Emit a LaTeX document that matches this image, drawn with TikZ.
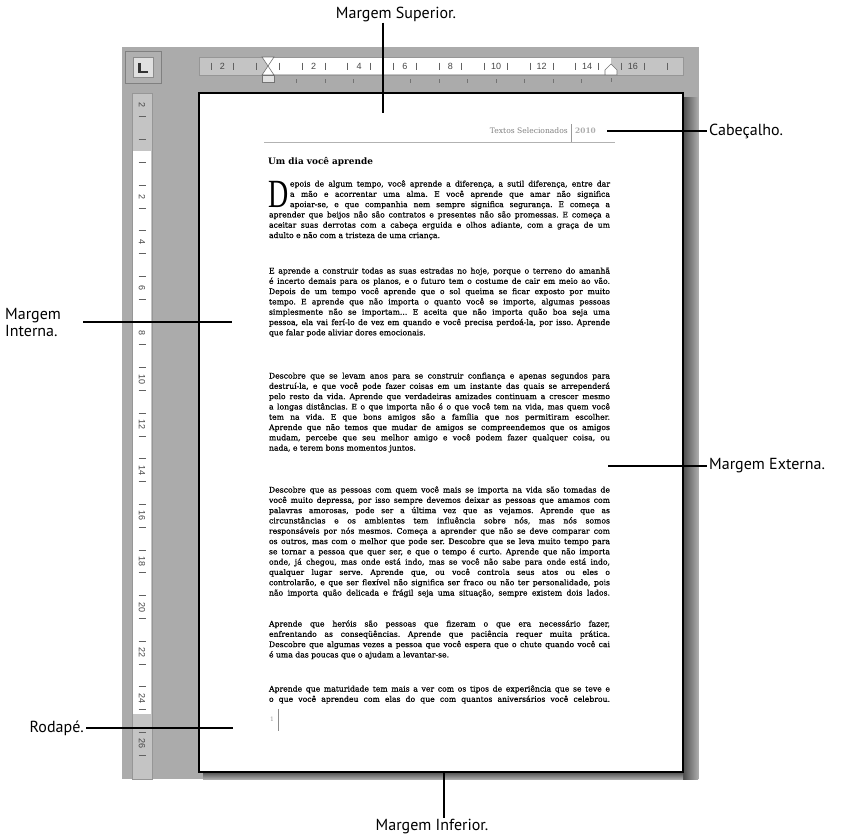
\documentclass[tikz,border=0pt]{standalone}
\usepackage{fontspec}
\usepackage{graphicx}
\setmainfont{DejaVu Serif}
\newfontfamily\labelfont{PT Sans}
\newfontfamily\bodyfont{DejaVu Serif}[FakeBold=0.45]
\newfontfamily\headfont{DejaVu Serif}
\newfontfamily\rulerfont{Liberation Sans}
\newfontfamily\dropfont{Liberation Serif}
\definecolor{bggray}{RGB}{171,171,171}
\definecolor{rgray}{RGB}{196,196,196}
\definecolor{rborder}{RGB}{150,150,150}
\frenchspacing
\newlength\jw
\newcommand\jfit[1]{\setbox0=\hbox{#1}\ifdim\wd0>\jw\resizebox{\jw}{\height}{#1}\else\makebox[\jw][s]{#1}\fi}
\newcommand\jline[4]{\node[txt] (#1) at (#2,#3) {\setlength\jw{\dimexpr 610pt-#2pt\relax}\jfit{#4}};}
\newcommand\fline[4]{\node[txt] (#1) at (#2,#3) {#4};}
\tikzset{
  txt/.style={anchor=base west, inner sep=0pt, outer sep=0pt, font=\bodyfont\fontsize{7.7}{9}\selectfont, text=black},
  lbl/.style={font=\labelfont\fontsize{16}{17}\selectfont, inner xsep=2pt, inner ysep=1pt},
  lead/.style={line width=1.4pt, black},
  rnum/.style={font=\rulerfont\fontsize{9}{9}\selectfont, text=black!72, inner sep=0pt},
  rtick/.style={line width=0.7pt, black!62},
  marker/.style={fill=white, draw=black!55, line width=0.6pt},
}
\begin{document}
\begin{tikzpicture}[x=1pt,y=-1pt]
\useasboundingbox (0,0) rectangle (861,839);
% application background
\fill[bggray] (122,47) rectangle (699,779);
% tab selector
\draw[fill=rgray!90!black, draw=black!50, line width=0.8pt] (125,51) rectangle (161,83);
\draw[fill=white!88!black, draw=black!45, line width=0.6pt] (133,57) rectangle (153,77);
\draw[line width=2.2pt, black!80] (139.5,63) -- (139.5,72) -- (148,72);
% top ruler
\draw[fill=rgray, draw=rborder, line width=0.6pt] (199,57) rectangle (683,75);
\fill[white] (268,58) rectangle (611,74);
\foreach \k in {-2.5,-1.5,...,17.5} \draw[rtick] ({268+22.8*\k},62.5) -- ++(0,7);
\foreach \n/\t [count=\i] in {-2/2,2/2,4/4,6/6,8/8,10/10,12/12,14/14,16/16}
  \node[rnum] (hn\i) at ({268+22.8*\n},66.5) {\t};
\foreach \k in {1,...,11} \draw[black!55, line width=0.7pt] ({268+28.5*\k},79) -- ++(0,3.5);
% indent markers
\draw[marker] (262,57) -- (274,57) -- (268,66) -- cycle;
\draw[marker] (268,66) -- (274,75) -- (262,75) -- cycle;
\draw[marker, fill=white!88!black] (262,75) rectangle (274,82);
\draw[marker] (605,75) -- (605,70) -- (611,64) -- (617,70) -- (617,75) -- cycle;
\draw[black!55, line width=0.7pt] (611,78) -- (611,81.5);
% left ruler
\draw[fill=rgray, draw=rborder, line width=0.6pt] (132,93) rectangle (152,779);
\fill[white] (133,151) rectangle (151,714);
\foreach \k in {-1.5,-0.5,...,26.5} \draw[rtick] (138.5,{151+22.8*\k}) -- ++(7,0);
\foreach \n/\t [count=\i] in {-2/2,2/2,4/4,6/6,8/8,10/10,12/12,14/14,16/16,18/18,20/20,22/22,24/24,26/26}
  \node[rnum, rotate=-90] (vn\i) at (142,{151+22.8*\n}) {\t};
% page shadow
\shade[left color=black!70, right color=bggray] (683,97) rectangle (698,779);
\shade[top color=black!70, bottom color=bggray] (203,772) rectangle (683,779);
% page
\draw[fill=white, line width=1.2pt] (199,93) rectangle (683,772);
% header
\draw[black!30, line width=0.8pt] (264,142) -- (615,142);
\draw[black!40, line width=0.8pt] (571,124) -- (571,142);
\node[anchor=east, inner sep=0pt, font=\headfont\fontsize{7.6}{9}\selectfont, text=black!50] (hdr) at (568,131) {Textos Selecionados};
\node[anchor=west, inner sep=0pt, font=\headfont\bfseries\fontsize{7.4}{9}\selectfont, text=black!32] (year) at (575,131) {2010};
% title
\node[anchor=base west, inner sep=0pt, font=\headfont\bfseries\fontsize{8.9}{10}\selectfont] (title) at (268,164) {Um dia você aprende};
% drop cap
\node[anchor=base west, inner sep=0pt, font=\dropfont\fontsize{40}{40}\selectfont, text=black] (dcap) at (268,207.1) {\scalebox{0.7}[1]{D}};
% paragraph 1
\jline{a1}{290}{186.5}{epois de algum tempo, você aprende a diferença, a sutil diferença, entre dar}
\jline{a2}{290}{196.8}{a mão e acorrentar uma alma. E você aprende que amar não significa}
\jline{a3}{290}{207.1}{apoiar-se, e que companhia nem sempre significa segurança. E começa a}
\jline{a4}{269}{217.4}{aprender que beijos não são contratos e presentes não são promessas. E começa a}
\jline{a5}{269}{227.7}{aceitar suas derrotas com a cabeça erguida e olhos adiante, com a graça de um}
\fline{a6}{269}{238.0}{adulto e não com a tristeza de uma criança.}
% paragraph 2
\jline{b1}{269}{273.5}{E aprende a construir todas as suas estradas no hoje, porque o terreno do amanhã}
\jline{b2}{269}{283.8}{é incerto demais para os planos, e o futuro tem o costume de cair em meio ao vão.}
\jline{b3}{269}{294.1}{Depois de um tempo você aprende que o sol queima se ficar exposto por muito}
\jline{b4}{269}{304.4}{tempo. E aprende que não importa o quanto você se importe, algumas pessoas}
\jline{b5}{269}{314.7}{simplesmente não se importam... E aceita que não importa quão boa seja uma}
\jline{b6}{269}{325.0}{pessoa, ela vai ferí-lo de vez em quando e você precisa perdoá-la, por isso. Aprende}
\fline{b7}{269}{335.3}{que falar pode aliviar dores emocionais.}
% paragraph 3
\jline{c1}{269}{378.5}{Descobre que se levam anos para se construir confiança e apenas segundos para}
\jline{c2}{269}{388.8}{destruí-la, e que você pode fazer coisas em um instante das quais se arrependerá}
\jline{c3}{269}{399.1}{pelo resto da vida. Aprende que verdadeiras amizades continuam a crescer mesmo}
\jline{c4}{269}{409.4}{a longas distâncias. E o que importa não é o que você tem na vida, mas quem você}
\jline{c5}{269}{419.7}{tem na vida. E que bons amigos são a família que nos permitiram escolher.}
\jline{c6}{269}{430.0}{Aprende que não temos que mudar de amigos se compreendemos que os amigos}
\jline{c7}{269}{440.3}{mudam, percebe que seu melhor amigo e você podem fazer qualquer coisa, ou}
\fline{c8}{269}{450.6}{nada, e terem bons momentos juntos.}
% paragraph 4
\jline{d1}{269}{492.5}{Descobre que as pessoas com quem você mais se importa na vida são tomadas de}
\jline{d2}{269}{502.8}{você muito depressa, por isso sempre devemos deixar as pessoas que amamos com}
\jline{d3}{269}{513.1}{palavras amorosas, pode ser a última vez que as vejamos. Aprende que as}
\jline{d4}{269}{523.4}{circunstâncias e os ambientes tem influência sobre nós, mas nós somos}
\jline{d5}{269}{533.7}{responsáveis por nós mesmos. Começa a aprender que não se deve comparar com}
\jline{d6}{269}{544.0}{os outros, mas com o melhor que pode ser. Descobre que se leva muito tempo para}
\jline{d7}{269}{554.3}{se tornar a pessoa que quer ser, e que o tempo é curto. Aprende que não importa}
\jline{d8}{269}{564.6}{onde, já chegou, mas onde está indo, mas se você não sabe para onde está indo,}
\jline{d9}{269}{574.9}{qualquer lugar serve. Aprende que, ou você controla seus atos ou eles o}
\jline{d10}{269}{585.2}{controlarão, e que ser flexível não significa ser fraco ou não ter personalidade, pois}
\jline{d11}{269}{595.5}{não importa quão delicada e frágil seja uma situação, sempre existem dois lados.}
% paragraph 5
\jline{e1}{269}{626.5}{Aprende que heróis são pessoas que fizeram o que era necessário fazer,}
\jline{e2}{269}{636.8}{enfrentando as conseqüências. Aprende que paciência requer muita prática.}
\jline{e3}{269}{647.1}{Descobre que algumas vezes a pessoa que você espera que o chute quando você cai}
\fline{e4}{269}{657.4}{é uma das poucas que o ajudam a levantar-se.}
% paragraph 6
\jline{f1}{269}{691.5}{Aprende que maturidade tem mais a ver com os tipos de experiência que se teve e}
\jline{f2}{269}{701.8}{o que você aprendeu com elas do que com quantos aniversários você celebrou.}
% footer
\node[inner sep=0pt, font=\headfont\fontsize{6}{7}\selectfont, text=black!40] (pgno) at (272,719) {1};
\draw[black!45, line width=0.7pt] (278,709) -- (278,731);
% callout labels
\node[lbl] (ms) at (396,14) {Margem Superior.};
\coordinate (msB) at (383,113);
\draw[lead] (ms.south -| msB) -- (msB);
\node[lbl, anchor=west] (cab) at (707,131) {Cabeçalho.};
\coordinate (cabL) at (607,131);
\draw[lead] (cabL) -- (cab.west);
\node[lbl, anchor=west, align=left] (mi) at (3,322) {Margem\\Interna.};
\coordinate (miR) at (232,322);
\draw[lead] ([xshift=20pt]mi.east) -- (miR);
\node[lbl, anchor=west] (me) at (707,466) {Margem Externa.};
\coordinate (meL) at (608,466);
\draw[lead] (meL) -- (me.west);
\node[lbl, anchor=east] (rod) at (86,728) {Rodapé.};
\coordinate (rodR) at (233,728);
\draw[lead] (rod.east) -- (rodR);
\node[lbl] (minf) at (432,827) {Margem Inferior.};
\coordinate (minT) at (444,773);
\draw[lead] (minT) -- (minT |- minf.north);
\end{tikzpicture}
\end{document}
